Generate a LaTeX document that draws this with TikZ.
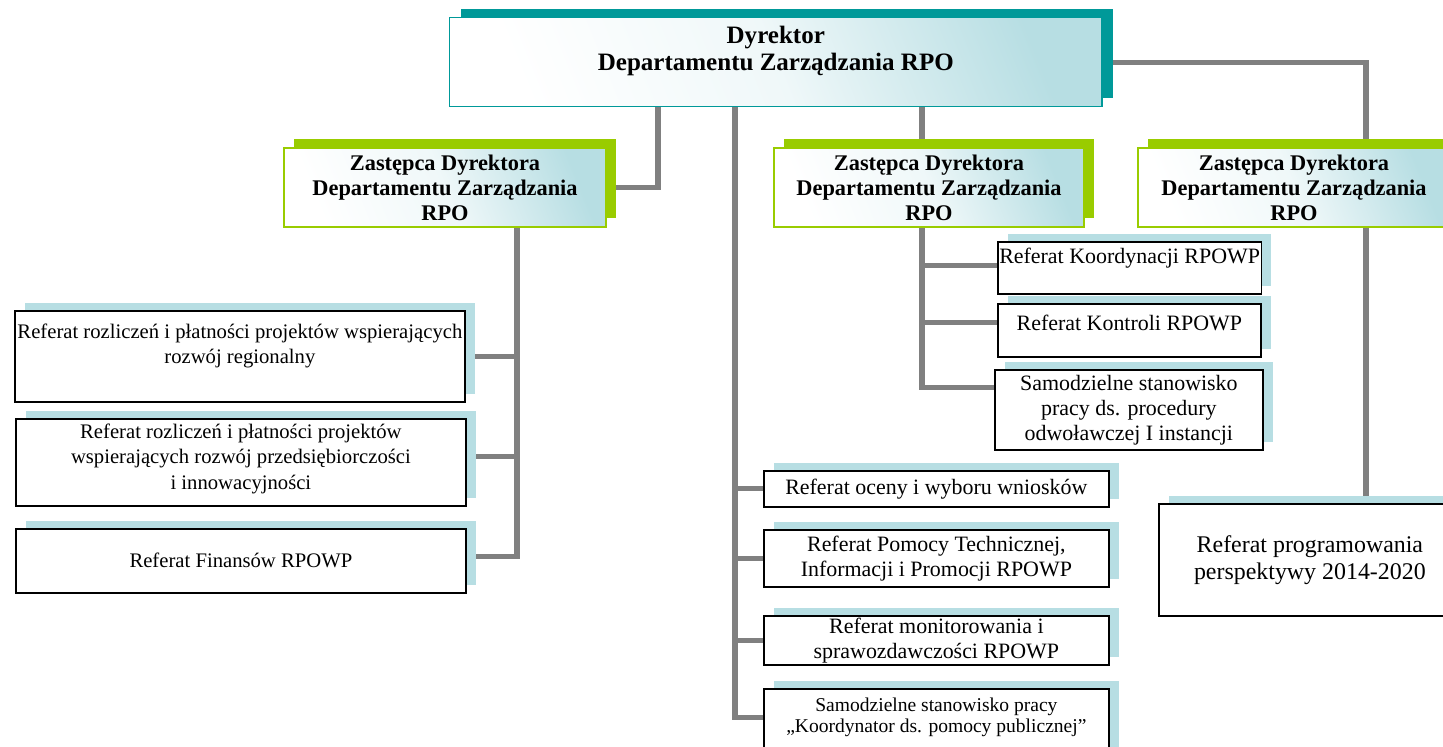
\documentclass[tikz,border=0pt]{standalone}
\usepackage{fontspec}
\setmainfont{Liberation Serif}
\usetikzlibrary{shadows,backgrounds}
\definecolor{linegray}{HTML}{808080}
\definecolor{headteal}{HTML}{009999}
\definecolor{paleteal}{HTML}{B7DEE3}
\definecolor{deputygreen}{HTML}{99CC00}
\begin{document}
\begin{tikzpicture}[x=0.025cm,y=-0.025cm,
    conn/.style={draw=linegray,line width=3.6pt},
    paleshade/.style={left color=white,right color=paleteal,middle color=paleteal!22,
      shading angle=112},
    headbox/.style={draw=headteal,line width=1pt,paleshade,
      general shadow={fill=headteal,shadow xshift=0.275cm,shadow yshift=0.225cm},
      anchor=north west,align=center,inner sep=1pt,
      font=\fontsize{17.8}{19.2}\selectfont\bfseries},
    deputybox/.style={draw=deputygreen,line width=1.4pt,paleshade,
      general shadow={fill=deputygreen,shadow xshift=0.25cm,shadow yshift=0.225cm},
      anchor=north west,align=center,inner sep=1pt,minimum height=1.975cm,
      font=\fontsize{15.9}{17.8}\selectfont\bfseries},
    unitbox/.style={draw=black,line width=1.2pt,fill=white,
      general shadow={fill=paleteal,shadow xshift=0.25cm,shadow yshift=0.2cm},
      anchor=north west,align=center,inner sep=1pt},
    leftunit/.style={unitbox,minimum width=11.25cm,font=\fontsize{14.7}{18.1}\selectfont},
    midunit/.style={unitbox,font=\fontsize{15.6}{17.8}\selectfont},
  ]
  \useasboundingbox (0,0) rectangle (1443,747);

  % dyrektor
  \node[headbox,minimum width=16.3cm,minimum height=2.225cm] (dyr) at (449,17)
    {Dyrektor\\Departamentu Zarządzania RPO\\ \mbox{}};

  % zastepcy
  \node[deputybox,minimum width=8.05cm] (zl) at (283,147)
    {Zastępca Dyrektora\\Departamentu Zarządzania\\RPO};
  \node[deputybox,minimum width=7.75cm] (zm) at (773,147)
    {Zastępca Dyrektora\\Departamentu Zarządzania\\RPO};
  \node[deputybox,minimum width=7.8cm] (zr) at (1137,147)
    {Zastępca Dyrektora\\Departamentu Zarządzania\\RPO};

  % referaty po lewej
  \node[leftunit,minimum height=2.275cm] (r1) at (14,310)
    {Referat rozliczeń i płatności projektów wspierających\\rozwój regionalny\\ \mbox{}};
  \node[leftunit,minimum height=2.175cm] (r2) at (15,418)
    {Referat rozliczeń i płatności projektów\\wspierających rozwój przedsiębiorczości\\i innowacyjności\\[-10pt]\mbox{}};
  \node[leftunit,minimum height=1.6cm] (r3) at (15,528)
    {Referat Finansów RPOWP};

  % referaty pod zastepca
  \node[midunit,minimum width=6.575cm,minimum height=1.3cm] (koord) at (997,241)
    {Referat Koordynacji RPOWP\\ \mbox{}};
  \node[midunit,minimum width=6.575cm,minimum height=1.325cm] (kontrola) at (997,303)
    {Referat Kontroli RPOWP\\[-6.4pt]\mbox{}};
  \node[midunit,minimum width=6.7cm,minimum height=2cm] (odwol) at (994,369)
    {Samodzielne stanowisko\\pracy ds. procedury\\odwoławczej I instancji};

  % referaty pod dyrektorem
  \node[midunit,minimum width=8.625cm,minimum height=0.9cm] (ocena) at (763,470)
    {Referat oceny i wyboru wniosków};
  \node[midunit,minimum width=8.625cm,minimum height=1.425cm] (pomoc) at (763,529)
    {Referat Pomocy Technicznej,\\Informacji i Promocji RPOWP};
  \node[midunit,minimum width=8.625cm,minimum height=1.225cm] (monit) at (763,615)
    {Referat monitorowania i\\sprawozdawczości RPOWP};
  \node[unitbox,minimum width=8.625cm,minimum height=1.825cm,
    font=\fontsize{13.9}{15}\selectfont] (pomocpub) at (763,688)
    {Samodzielne stanowisko pracy\\„Koordynator ds. pomocy publicznej”\\ \mbox{}};

  % programowanie
  \node[unitbox,minimum width=7.55cm,minimum height=2.8cm,
    font=\fontsize{17}{19.2}\selectfont] (prog) at (1158,503)
    {Referat programowania\\perspektywy 2014-2020};

  \coordinate (jl) at (658,106);
  \coordinate (jc) at (735,106);
  \coordinate (jm) at (922,106);
  \coordinate (lt) at (517,226);
  \coordinate (mt) at (922,226);
  \coordinate (jr) at (1366,503);

  \begin{scope}[on background layer]
    \draw[conn] (jl) |- (zl.east);
    \draw[conn] (jm) -- (zm.north -| jm);
    \draw[conn] (dyr.east) -| (jr);
    \draw[conn] (lt) |- (r1.east);
    \draw[conn] (lt) |- ([yshift=0.15cm]r2.east);
    \draw[conn] (lt) |- ([yshift=0.1cm]r3.east);
    \draw[conn] (mt) |- ([yshift=0.05cm]koord.west);
    \draw[conn] (mt) |- ([yshift=0.2cm]kontrola.west);
    \draw[conn] (mt) |- ([yshift=0.55cm]odwol.west);
    \draw[conn] (jc) |- (ocena.west);
    \draw[conn] (jc) |- (pomoc.west);
    \draw[conn] (jc) |- (monit.west);
    \draw[conn] (jc) |- ([yshift=0.2cm]pomocpub.west);
  \end{scope}
\end{tikzpicture}
\end{document}
